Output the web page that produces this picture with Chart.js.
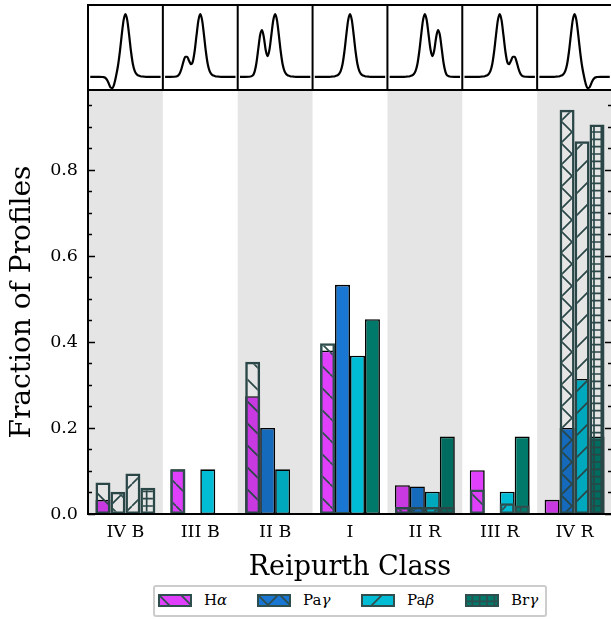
<!DOCTYPE html>
<html>
<head>
<meta charset="utf-8">
<script src="https://cdn.jsdelivr.net/npm/chart.js@4.4.1/dist/chart.umd.min.js"></script>
<style>
body{margin:0;background:#fff;width:611px;height:619px;overflow:hidden;position:relative;font-family:'DejaVu Serif',serif}
#main,#top{position:absolute;left:0;top:0}
#legend{position:absolute;left:153px;top:585px;width:390px;height:28px;border:2px solid #ccc;border-radius:3px;background:#fff}
.item{position:absolute;top:0;height:28px;width:100px}
.item canvas{position:absolute;left:0;top:7px}
.item span{position:absolute;left:46px;top:0;line-height:26px;font-size:15px;white-space:nowrap;color:#000}
</style>
</head>
<body>
<canvas id="main" width="614" height="619"></canvas>
<canvas id="top" width="614" height="92"></canvas>
<div id="legend"></div>
<script>

/* DATA */

const classes=['IV B','III B','II B','I','II R','III R','IV R'];
const lines=['Hα','Paγ','Paβ','Brγ'];

// filled bars
const haFrac=[0.033,0.104,0.274,0.380,0.067,0.102,0.033];
const pagFrac=[0,0,0.200,0.533,0.064,0,0.200];
const pabFrac=[0,0.104,0.104,0.368,0.052,0.052,0.314];
const brgFrac=[0,0,0,0.453,0.180,0.180,0.180];

// hatched outline bars
const haHatch=[0.073,0.104,0.354,0.397,0.016,0.057,0];
const pagHatch=[0.052,0,0,0.005,0.016,0,0.940];
const pabHatch=[0.094,0,0,0,0.016,0.025,0.867];
const brgHatch=[0.061,0,0,0,0.016,0.020,0.906];

const yTicks=[0,0.2,0.4,0.6,0.8];
const yMax=0.986;

// line profiles for the top strip (x across one panel, y normalised to peak)
const profileX=[0.03,0.10,0.15,0.200,0.225,0.250,0.275,0.300,0.325,0.350,0.375,0.400,0.425,0.450,0.475,0.500,0.525,0.550,0.575,0.600,0.625,0.650,0.675,0.700,0.725,0.750,0.775,0.800,0.85,0.90,0.97];
const profIVB=[0,0,0,-0.003,-0.011,-0.042,-0.1,-0.168,-0.18,-0.116,0.012,0.172,0.394,0.66,0.90,1.00,0.90,0.66,0.40,0.20,0.09,0.04,0.02,0.01,0.005,0.002,0,0,0,0,0];
const profIIIB=[0,0,0.001,0.017,0.054,0.133,0.242,0.32,0.32,0.256,0.203,0.243,0.412,0.663,0.9,1,0.9,0.66,0.4,0.2,0.09,0.04,0.02,0.01,0.005,0.002,0,0,0,0,0];
const profIIB=[0,0,0.001,0.02,0.079,0.22,0.448,0.671,0.746,0.624,0.42,0.33,0.44,0.671,0.902,1,0.9,0.66,0.4,0.2,0.09,0.04,0.02,0.01,0.005,0.002,0,0,0,0,0];
const profI=[0,0,0,0,0,0.002,0.005,0.01,0.02,0.04,0.09,0.2,0.4,0.66,0.9,1,0.9,0.66,0.4,0.2,0.09,0.04,0.02,0.01,0.005,0.002,0,0,0,0,0];
const profIIR=[0,0,0,0,0,0.002,0.005,0.01,0.02,0.04,0.09,0.2,0.4,0.66,0.9,1,0.902,0.671,0.44,0.33,0.42,0.624,0.746,0.671,0.448,0.22,0.079,0.02,0.001,0,0];
const profIIIR=[0,0,0,0,0,0.002,0.005,0.01,0.02,0.04,0.09,0.2,0.4,0.66,0.9,1,0.9,0.663,0.412,0.243,0.203,0.256,0.32,0.32,0.242,0.133,0.054,0.017,0.001,0,0];
const profIVR=[0,0,0,0,0,0.002,0.005,0.01,0.02,0.04,0.09,0.20,0.40,0.66,0.90,1.00,0.90,0.66,0.394,0.172,0.012,-0.116,-0.18,-0.168,-0.1,-0.042,-0.011,-0.003,0,0,0];


/* STYLE */

const colors=['#e040fb','#1976d2','#00bcd4','#00796b'];
const hatches=['\\','x','/','+'];
const edge='#2f4f4f';
const shaded=[0,2,4,6];
const legendLeft=[3,102,206,310];

Chart.defaults.font.family="'DejaVu Serif', serif";
Chart.defaults.color='#000';


/* HATCH PATTERNS */

function makeHatch(kind){
const T=22;
const tile=document.createElement('canvas');
tile.width=T; tile.height=T;
const g=tile.getContext('2d');
g.strokeStyle=edge;
g.lineWidth=1.7;
g.beginPath();
if(kind==='\\'||kind==='x'){
for(let k=-1;k<=1;k++){ g.moveTo(k*T,0); g.lineTo(k*T+T,T); }
}
if(kind==='/'||kind==='x'){
for(let k=0;k<=2;k++){ g.moveTo(k*T,0); g.lineTo(k*T-T,T); }
}
if(kind==='+'){
for(let k=0;k<=3;k++){ const p=k*T/3; g.moveTo(p,0); g.lineTo(p,T); g.moveTo(0,p); g.lineTo(T,p); }
}
g.stroke();
return g.createPattern(tile,'repeat');
}

const patterns=hatches.map(makeHatch);


/* MAIN BAR CHART */

const fracs=[haFrac,pagFrac,pabFrac,brgFrac];
const hatchVals=[haHatch,pagHatch,pabHatch,brgHatch];

const datasets=[];
lines.forEach((name,i)=>{
datasets.push({
label:name+' hatched',
data:hatchVals[i],
stack:'s'+i,
order:0,
backgroundColor:patterns[i],
borderColor:edge,
borderWidth:2.5,
borderSkipped:false,
categoryPercentage:0.8,
barPercentage:1
});
});
lines.forEach((name,i)=>{
datasets.push({
label:name,
data:fracs[i],
stack:'s'+i,
order:1,
backgroundColor:colors[i],
borderColor:'#000',
borderWidth:1.6,
borderSkipped:false,
categoryPercentage:0.8,
barPercentage:1
});
});

const framePlugin={
id:'frame',
afterDatasetsDraw(chart){
const {ctx,chartArea:a,scales:{x,y}}=chart;
ctx.save();
// alternating grey bands
const w=x.getPixelForValue(1)-x.getPixelForValue(0);
ctx.fillStyle='rgba(0,0,0,0.1)';
shaded.forEach(i=>{
const cx=x.getPixelForValue(i);
ctx.fillRect(cx-w/2,a.top,w,a.bottom-a.top);
});
// inward ticks on both sides
ctx.strokeStyle='#000';
ctx.lineWidth=1.3;
ctx.beginPath();
for(let k=0;k*0.05<=yMax;k++){
const py=Math.round(y.getPixelForValue(k*0.05))+0.5;
const len=(k%4===0)?7:4;
ctx.moveTo(a.left,py); ctx.lineTo(a.left+len,py);
ctx.moveTo(a.right,py); ctx.lineTo(a.right-len,py);
}
ctx.stroke();
// spines
ctx.lineWidth=2;
ctx.strokeRect(a.left,a.top,a.right-a.left,a.bottom-a.top);
ctx.restore();
}
};

new Chart(document.getElementById('main'),{
type:'bar',
data:{labels:classes,datasets:datasets},
options:{
responsive:false,
animation:false,
layout:{padding:{top:90,right:2,left:0,bottom:0}},
plugins:{legend:{display:false},tooltip:{enabled:false}},
scales:{
x:{
grid:{display:false,drawTicks:false},
border:{display:false},
ticks:{padding:7.5,font:{size:17.5},color:'#000'},
title:{display:true,text:'Reipurth Class',font:{size:27},color:'#000',padding:{top:0,bottom:35}},
afterFit:s=>{s.height=105;}
},
y:{
stacked:false,
min:0,
max:yMax,
grid:{display:false,drawTicks:false},
border:{display:false},
afterBuildTicks:s=>{s.ticks=yTicks.map(v=>({value:v}));},
ticks:{padding:10,font:{size:17.5},color:'#000',callback:v=>Number(v).toFixed(1)},
title:{display:true,text:'Fraction of Profiles',font:{size:28},color:'#000',padding:{top:6,bottom:0}},
afterFit:s=>{s.width=88;}
}
}
},
plugins:[framePlugin]
});


/* TOP PROFILE STRIP */

const profiles=[profIVB,profIIIB,profIIB,profI,profIIR,profIIIR,profIVR];

const panelPlugin={
id:'panels',
afterDraw(chart){
const {ctx,chartArea:a,scales:{x}}=chart;
ctx.save();
ctx.strokeStyle='#000';
ctx.lineWidth=2;
ctx.strokeRect(a.left,a.top,a.right-a.left,a.bottom-a.top);
ctx.beginPath();
for(let i=1;i<classes.length;i++){
const px=x.getPixelForValue(i);
ctx.moveTo(px,a.top); ctx.lineTo(px,a.bottom);
}
ctx.stroke();
ctx.restore();
}
};

new Chart(document.getElementById('top'),{
type:'line',
data:{
datasets:profiles.map((p,i)=>({
label:classes[i],
data:profileX.map((px,j)=>({x:i+px,y:p[j]})),
borderColor:'#000',
borderWidth:2.2,
pointRadius:0,
fill:false,
cubicInterpolationMode:'monotone'
}))
},
options:{
responsive:false,
animation:false,
layout:{padding:{left:88,right:2,top:5,bottom:2}},
plugins:{legend:{display:false},tooltip:{enabled:false}},
scales:{
x:{type:'linear',min:0,max:classes.length,display:false},
y:{min:-0.21,max:1.145,display:false}
}
},
plugins:[panelPlugin]
});


/* LEGEND */

const legend=document.getElementById('legend');
lines.forEach((name,i)=>{
const item=document.createElement('div');
item.className='item';
item.style.left=legendLeft[i]+'px';
const cv=document.createElement('canvas');
cv.width=34; cv.height=13;
const g=cv.getContext('2d');
g.fillStyle=colors[i];
g.fillRect(0,0,34,13);
g.fillStyle=patterns[i];
g.fillRect(0,0,34,13);
g.strokeStyle=edge;
g.lineWidth=2;
g.strokeRect(1,1,32,11);
const sp=document.createElement('span');
sp.innerHTML=name.replace(/([α-ω])/g,'<i>$1</i>');
item.appendChild(cv);
item.appendChild(sp);
legend.appendChild(item);
});

</script>
</body>
</html>
